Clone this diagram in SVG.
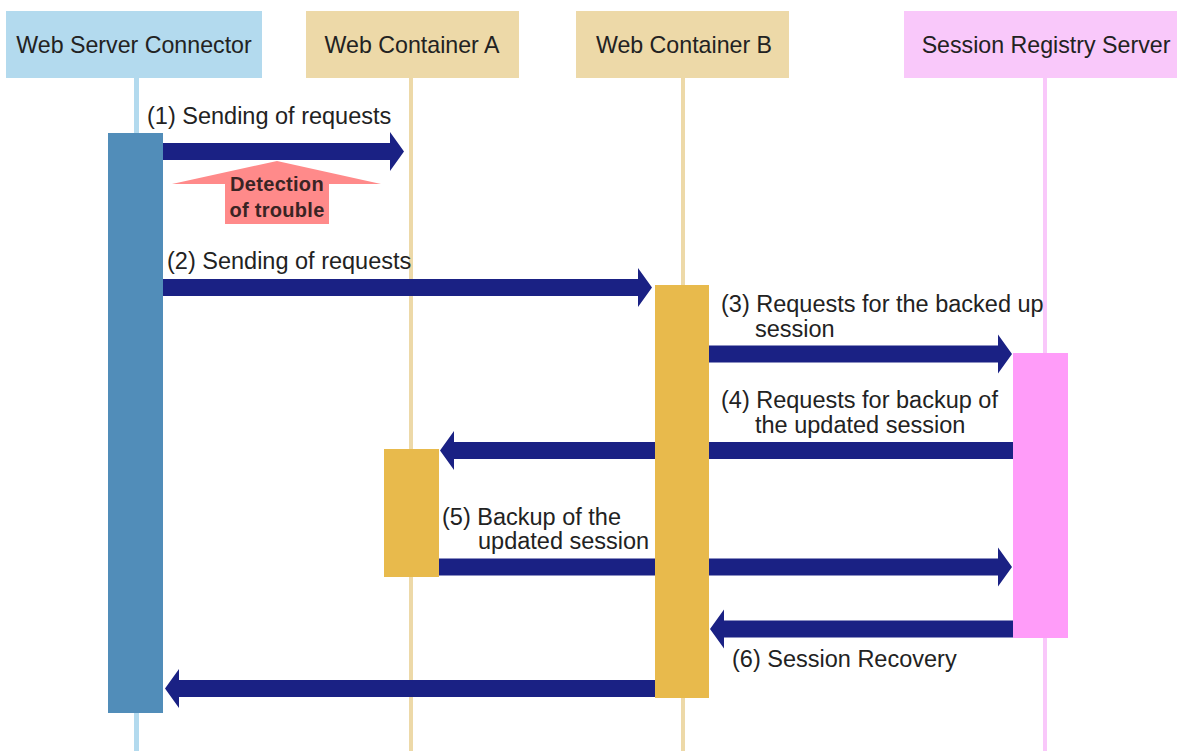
<svg xmlns="http://www.w3.org/2000/svg" width="1177" height="751" viewBox="0 0 1177 751">
  <style>
    .hdr-text { font-family: "Liberation Sans", Arial, sans-serif; font-size: 23.2px; fill: #222; text-anchor: middle; }
    .lbl { font-family: "Liberation Sans", Arial, sans-serif; font-size: 23.5px; fill: #222; }
    .warn { font-family: "Liberation Sans", Arial, sans-serif; font-size: 20px; font-weight: bold; fill: #3a2424; text-anchor: middle; letter-spacing: 0.3px; }
    .msg { fill: #1a2184; }
    .blue-h { fill: #b3daee; }
    .tan-h { fill: #edd9a8; }
    .pink-h { fill: #f9c8fa; }
    .blue-a { fill: #518db9; }
    .tan-a { fill: #e8ba4c; }
    .pink-a { fill: #ff9cf9; }
  </style>

  <rect width="1177" height="751" fill="#ffffff"/>

  <!-- lifelines sit behind the messages -->
  <g id="lifelines">
    <rect x="134" y="78" width="5" height="673" class="blue-h"/>
    <rect x="409" y="78" width="4" height="673" class="tan-h"/>
    <rect x="681" y="78" width="4" height="673" class="tan-h"/>
    <rect x="1043" y="78" width="4" height="673" class="pink-h"/>
  </g>

  <!-- messages -->
  <g id="connectors">
    <!-- (1) -->
    <path class="msg" d="M163,143 H390 V132 L404,151.5 L390,171 V160 H163 Z"/>
    <!-- (2) -->
    <path class="msg" d="M163,279 H638 V268 L652,287.5 L638,307 V296 H163 Z"/>
    <!-- (3) -->
    <path class="msg" d="M709,345.5 H998 V334.5 L1012,354 L998,373.5 V362.5 H709 Z"/>
    <!-- (4) -->
    <path class="msg" d="M1013,442 H454 V431 L440,450.5 L454,470 V459 H1013 Z"/>
    <!-- (5) -->
    <path class="msg" d="M439,558.5 H998 V547.5 L1012,567 L998,586.5 V575.5 H439 Z"/>
    <!-- (6) -->
    <path class="msg" d="M1013,620.5 H724 V609.5 L710,629 L724,648.5 V637.5 H1013 Z"/>
    <!-- reply to the connector -->
    <path class="msg" d="M655,680 H179 V669 L165,688.5 L179,708 V697 H655 Z"/>

    <text class="lbl" x="147" y="124">(1) Sending of requests</text>
    <text class="lbl" x="167" y="269">(2) Sending of requests</text>
    <text class="lbl" x="721" y="312">(3) Requests for the backed up</text>
    <text class="lbl" x="755" y="337">session</text>
    <text class="lbl" x="721" y="408">(4) Requests for backup of</text>
    <text class="lbl" x="755" y="433">the updated session</text>
    <text class="lbl" x="442" y="525">(5) Backup of the</text>
    <text class="lbl" x="478" y="549">updated session</text>
    <text class="lbl" x="732" y="667">(6) Session Recovery</text>
  </g>

  <!-- trouble marker under message (1) -->
  <g id="trouble">
    <polygon fill="#ff8a8a" points="277,161 381,184 329,184 329,224 225,224 225,184 172,184"/>
    <text class="warn" x="277" y="191">Detection</text>
    <text class="warn" x="277" y="217">of trouble</text>
  </g>

  <g id="web-server-connector">
    <rect x="6" y="11" width="256" height="67" class="blue-h"/>
    <text class="hdr-text" x="134" y="53">Web Server Connector</text>
    <rect x="108" y="133" width="55" height="580" class="blue-a"/>
  </g>

  <g id="web-container-a">
    <rect x="306" y="11" width="213" height="67" class="tan-h"/>
    <text class="hdr-text" x="412" y="53">Web Container A</text>
    <rect x="384" y="449" width="55" height="128" class="tan-a"/>
  </g>

  <g id="web-container-b">
    <rect x="576" y="11" width="213" height="67" class="tan-h"/>
    <text class="hdr-text" x="684" y="53">Web Container B</text>
    <rect x="655" y="285" width="54" height="413" class="tan-a"/>
  </g>

  <g id="session-registry-server">
    <rect x="904" y="11" width="273" height="67" class="pink-h"/>
    <text class="hdr-text" x="1046" y="53">Session Registry Server</text>
    <rect x="1013" y="353" width="55" height="285" class="pink-a"/>
  </g>
</svg>
